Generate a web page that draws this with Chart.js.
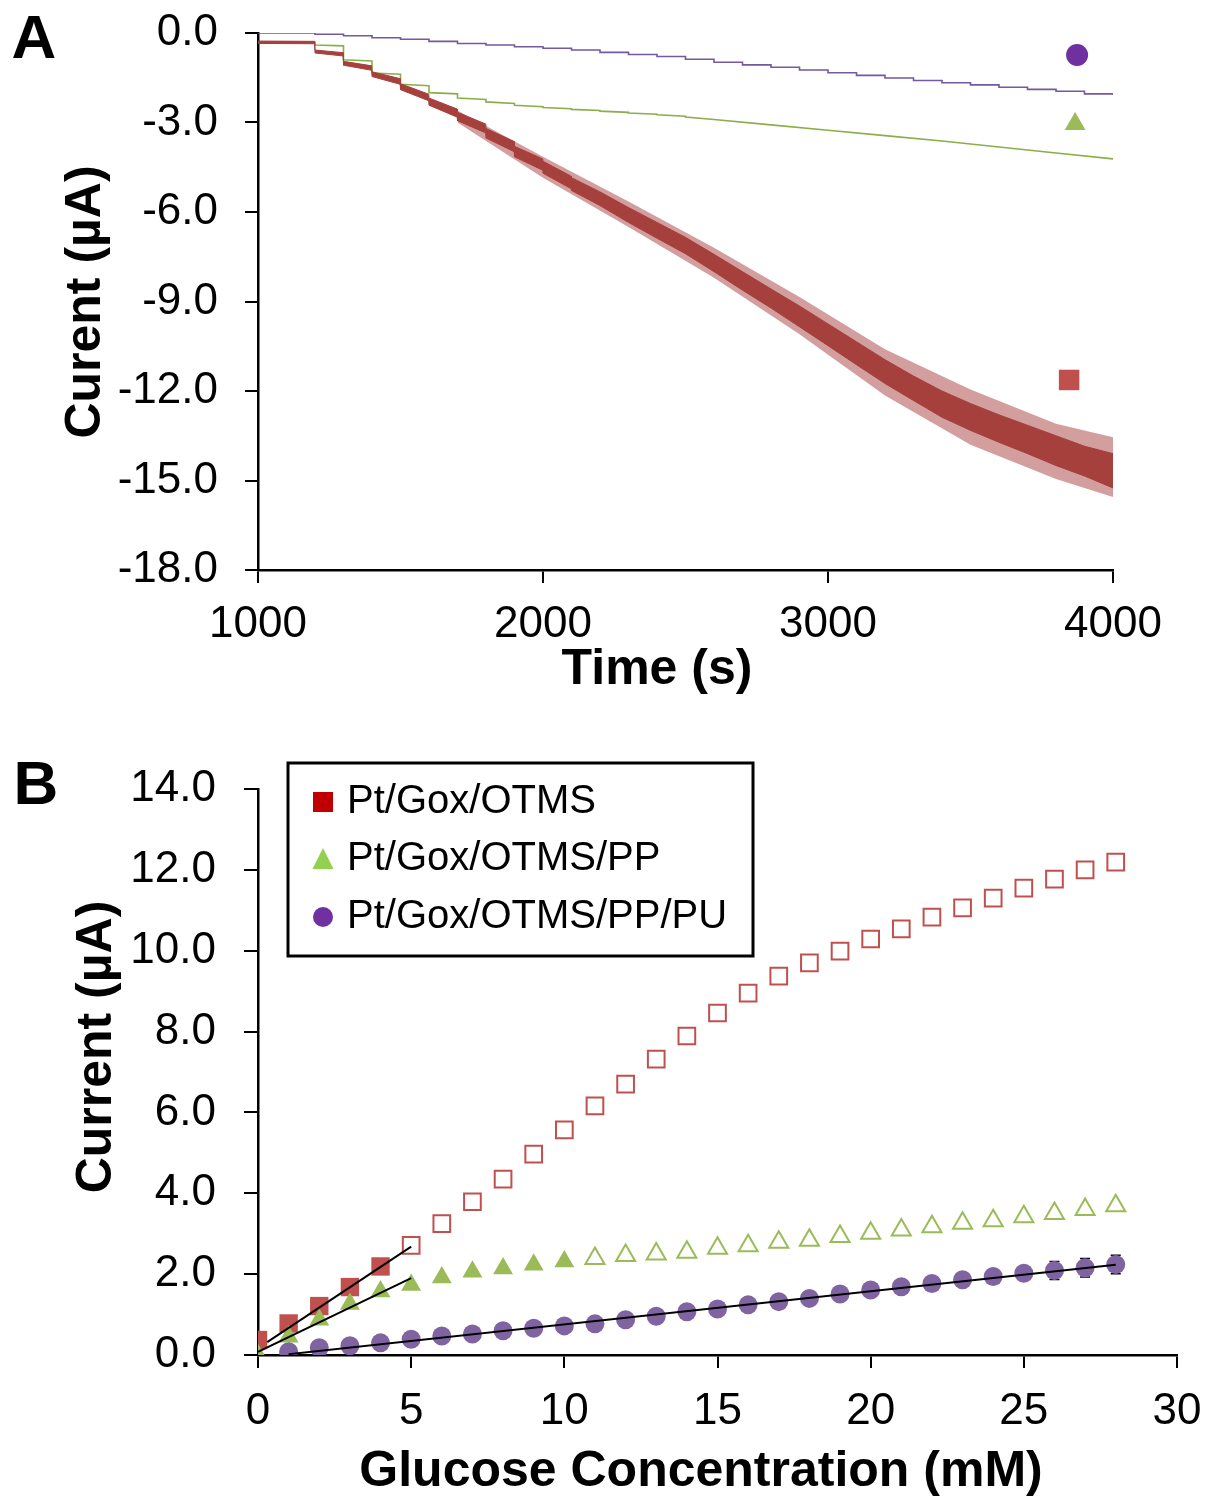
<!DOCTYPE html>
<html><head><meta charset="utf-8">
<script src="https://cdn.jsdelivr.net/npm/chart.js@4.4.1/dist/chart.umd.min.js"></script>
<style>
html,body{margin:0;padding:0;background:#fff;}
#wrap{position:relative;width:1207px;height:1501px;overflow:hidden;}
#ca{position:absolute;left:0;top:0;}
#cb{position:absolute;left:0;top:720px;}
</style></head><body>
<div id="wrap">
<canvas id="ca" width="1207" height="720"></canvas>
<canvas id="cb" width="1207" height="781"></canvas>
</div>
<script>
// ---------------- DATA: panel A (amperometric response) ----------------
const purpleStepTimes = [1000,1200,1300,1400,1500,1600,1700,1800,1900,2000,2100,2200,2300,2400,2500,2600,2700,2800,2900,3000,3100,3200,3300,3400,3500,3600,3700,3800,3900,4000];
const purpleLevels = [0.00,-0.04,-0.09,-0.16,-0.21,-0.28,-0.35,-0.40,-0.46,-0.51,-0.57,-0.65,-0.72,-0.79,-0.88,-0.98,-1.07,-1.15,-1.24,-1.33,-1.42,-1.51,-1.59,-1.67,-1.74,-1.82,-1.89,-1.95,-2.04,-2.04];

const greenTimes = [1000,1200,1200,1300,1300,1400,1400,1500,1500,1600,1600,1700,1700,1800,1800,1900,1900,2000,2000,2100,2100,2200,2200,2300,2300,2400,2400,2500,2500,2600,2800,3000,3200,3400,3600,3800,4000];
const greenCurrent = [-0.30,-0.31,-0.40,-0.43,-0.90,-0.94,-1.34,-1.38,-1.72,-1.77,-2.00,-2.04,-2.18,-2.23,-2.31,-2.36,-2.42,-2.47,-2.50,-2.54,-2.56,-2.60,-2.62,-2.66,-2.68,-2.72,-2.74,-2.79,-2.82,-2.90,-3.08,-3.26,-3.44,-3.62,-3.82,-4.02,-4.22];

const redTimes = [1000,1199,1200,1299,1300,1399,1400,1499,1500,1599,1600,1699,1700,1799,1800,1899,1900,1999,2000,2099,2100,2199,2300,2400,2500,2600,2700,2800,2900,3000,3100,3200,3300,3400,3500,3600,3700,3800,3900,4000];
const redCoreUpper = [-0.27,-0.28,-0.57,-0.66,-0.95,-1.10,-1.30,-1.53,-1.70,-2.05,-2.18,-2.55,-2.66,-3.05,-3.20,-3.64,-3.80,-4.22,-4.30,-4.80,-4.85,-5.32,-5.85,-6.35,-6.85,-7.42,-8.00,-8.58,-9.15,-9.75,-10.35,-10.95,-11.50,-12.00,-12.42,-12.80,-13.15,-13.50,-13.85,-14.10];
const redCoreLower = [-0.35,-0.36,-0.67,-0.77,-1.08,-1.25,-1.46,-1.72,-1.90,-2.27,-2.42,-2.82,-2.94,-3.35,-3.52,-3.98,-4.15,-4.60,-4.70,-5.22,-5.28,-5.78,-6.35,-6.88,-7.40,-8.00,-8.62,-9.22,-9.85,-10.48,-11.12,-11.75,-12.32,-12.88,-13.32,-13.72,-14.10,-14.50,-14.85,-15.25];
const redSpikeTimes = [1700,2000,2300,2600,2900,3200,3500,3800,4000];
const redSpikeUpper = [-2.60,-4.15,-5.65,-7.20,-8.85,-10.60,-11.95,-13.10,-13.55];
const redSpikeLower = [-3.00,-4.85,-6.50,-8.20,-10.10,-12.15,-13.80,-14.95,-15.55];

// end-of-trace markers (legend symbols) in panel A
const markerTimes = [3846,3867,3874];
const markerCurrents = [-11.63,-3.05,-0.74];

const aXTicks = {min:1000,max:4000,step:1000};
const aYTicks = {min:-18,max:0,step:3};

// ---------------- DATA: panel B (calibration) ----------------
const seriesNames = ['Pt/Gox/OTMS','Pt/Gox/OTMS/PP','Pt/Gox/OTMS/PP/PU'];
const concentration = [0,1,2,3,4,5,6,7,8,9,10,11,12,13,14,15,16,17,18,19,20,21,22,23,24,25,26,27,28];
const otmsCurrent = [0.37,0.78,1.21,1.68,2.19,2.71,3.25,3.79,4.35,4.97,5.57,6.16,6.70,7.32,7.89,8.46,8.95,9.37,9.70,9.99,10.29,10.54,10.83,11.06,11.30,11.55,11.77,12.00,12.19];
const ppCurrent = [0.00,0.45,0.87,1.26,1.57,1.73,1.92,2.06,2.14,2.23,2.31,2.39,2.46,2.50,2.54,2.64,2.70,2.79,2.84,2.93,3.01,3.09,3.17,3.26,3.32,3.42,3.50,3.60,3.69];
const puCurrent = [null,0.08,0.18,0.23,0.30,0.39,0.47,0.52,0.60,0.66,0.72,0.77,0.87,0.96,1.07,1.14,1.24,1.32,1.40,1.51,1.61,1.69,1.77,1.86,1.94,2.02,2.09,2.16,2.24];
const puError = [0,0,0,0,0,0,0,0,0,0,0,0,0,0,0,0,0,0,0,0,0,0,0,0,0,0,0.22,0.23,0.23];
const otmsLinearEnd = 4;   // last point of linear range (filled markers)
const ppLinearEnd = 10;
const fitOtmsX = [0.3,5.0], fitOtmsY = [0.32,2.68];
const fitPpX = [0.0,5.0], fitPpY = [0.08,1.90];
const fitPuX = [1.0,28.0], fitPuY = [0.02,2.23];
const bXTicks = {min:0,max:30,step:5};
const bYTicks = {min:0,max:14,step:2};

// ---------------- helpers ----------------
const FONT = "'Liberation Sans', Arial, sans-serif";
const pts = (xs, ys) => xs.map((x,i)=>({x:x, y:ys[i]}));
const sel = (xs, ys, from, to) => xs.map((x,i)=>({x:x,y:ys[i]})).filter((p,i)=>i>=from && i<=to && p.y!==null);

const textPlugin = {
  id:'texts',
  afterDraw(chart, args, opts){
    const ctx = chart.ctx;
    (opts.items||[]).forEach(it=>{
      ctx.save();
      ctx.font = it.font; ctx.fillStyle = '#000';
      ctx.textAlign = 'center'; ctx.textBaseline = 'middle';
      ctx.translate(it.x, it.y); if (it.rot) ctx.rotate(it.rot);
      ctx.fillText(it.text, 0, 0);
      ctx.restore();
    });
  }
};

const errorBarPlugin = {
  id:'errBars',
  beforeDatasetsDraw(chart, args, o){
    if (!o.x) return;
    const ctx = chart.ctx, xs = chart.scales.x, ys = chart.scales.y;
    ctx.save(); ctx.strokeStyle = '#000'; ctx.lineWidth = 1.5;
    o.x.forEach((cx,i)=>{
      const v = o.y[i], e = o.err[i];
      if (v===null || !e) return;
      const px = xs.getPixelForValue(cx), p1 = ys.getPixelForValue(v+e), p2 = ys.getPixelForValue(v-e);
      ctx.beginPath();
      ctx.moveTo(px, p1); ctx.lineTo(px, p2);
      ctx.moveTo(px-5, p1); ctx.lineTo(px+5, p1);
      ctx.moveTo(px-5, p2); ctx.lineTo(px+5, p2);
      ctx.stroke();
    });
    ctx.restore();
  }
};

const boxLegendPlugin = {
  id:'boxLegend',
  afterDraw(chart, args, o){
    if (!o.labels) return;
    const ctx = chart.ctx;
    ctx.save();
    ctx.lineWidth = 3; ctx.strokeStyle = '#000';
    ctx.strokeRect(o.left, o.top, o.width, o.height);
    ctx.font = o.font; ctx.textAlign = 'left'; ctx.textBaseline = 'alphabetic'; ctx.fillStyle = '#000';
    o.labels.forEach((lab,i)=>{
      const by = o.baselines[i];
      const cy = by - 11;
      const mx = o.left + 35;
      ctx.fillStyle = o.colors[i];
      ctx.beginPath();
      if (o.styles[i]==='rect') { ctx.rect(mx-10, cy-10, 20, 20); }
      else if (o.styles[i]==='triangle') { ctx.moveTo(mx, cy-11); ctx.lineTo(mx+10.5, cy+10); ctx.lineTo(mx-10.5, cy+10); ctx.closePath(); }
      else { ctx.arc(mx, cy, 10, 0, Math.PI*2); }
      ctx.fill();
      ctx.fillStyle = '#000';
      ctx.fillText(lab, o.left + 59, by);
    });
    ctx.restore();
  }
};

function axis(min, max, step, fmt, isY, tickLen, pad, size){
  return {
    type:'linear', min:min, max:max,
    ticks:{stepSize:step, autoSkip:false, maxRotation:0, color:'#000', padding:pad,
      font:{family:FONT, size:44}, callback:fmt},
    grid:{display:true, drawOnChartArea:false, drawTicks:true, tickLength:tickLen, tickWidth:2, color:'#000', lineWidth:2},
    border:{display:true, color:'#000', width:2.5},
    afterFit:(s)=>{
      if (isY) { s.width = size; s.paddingTop = 0; s.paddingBottom = 0; }
      else { s.height = size; s.paddingLeft = 0; s.paddingRight = 0; }
    }
  };
}

// ---------------- Chart A ----------------
new Chart(document.getElementById('ca'), {
  type:'line',
  data:{ datasets:[
    {label:'markerSquare', type:'scatter', data:[{x:markerTimes[0],y:markerCurrents[0]}], pointStyle:'rect', pointRadius:14.5, backgroundColor:'#C0504D', borderColor:'#C0504D', borderWidth:0},
    {label:'markerTriangle', type:'scatter', data:[{x:markerTimes[1],y:markerCurrents[1]}], pointStyle:'triangle', pointRadius:12, backgroundColor:'#9BBB59', borderColor:'#9BBB59', borderWidth:0},
    {label:'markerCircle', type:'scatter', data:[{x:markerTimes[2],y:markerCurrents[2]}], pointStyle:'circle', pointRadius:11, backgroundColor:'#7030A0', borderColor:'#7030A0', borderWidth:0},
    {label:'redCoreUpper', data:pts(redTimes, redCoreUpper), borderColor:'#A5403D', borderWidth:1, pointRadius:0, fill:false},
    {label:'redCoreLower', data:pts(redTimes, redCoreLower), borderColor:'#A5403D', borderWidth:1, pointRadius:0, fill:3, backgroundColor:'#A5403D'},
    {label:'redSpikeUpper', data:pts(redSpikeTimes, redSpikeUpper), borderColor:'rgba(165,64,61,0)', borderWidth:0, pointRadius:0, fill:false},
    {label:'redSpikeLower', data:pts(redSpikeTimes, redSpikeLower), borderColor:'rgba(165,64,61,0)', borderWidth:0, pointRadius:0, fill:5, backgroundColor:'rgba(165,64,61,0.5)'},
    {label:'green', data:pts(greenTimes, greenCurrent), borderColor:'#8AAE48', borderWidth:1.6, pointRadius:0, fill:false},
    {label:'purple', data:pts(purpleStepTimes, purpleLevels), borderColor:'#7458A0', borderWidth:1.6, pointRadius:0, stepped:'before', fill:false}
  ]},
  options:{
    responsive:false, animation:false, devicePixelRatio:1,
    layout:{padding:{top:33, right:94, left:0, bottom:0}},
    plugins:{legend:{display:false}, tooltip:{enabled:false},
      texts:{items:[
        {text:'A', x:34, y:41, font:"bold 62px "+FONT},
        {text:'Curent (\u00B5A)', x:86, y:302, rot:-Math.PI/2, font:"bold 50px "+FONT},
        {text:'Time (s)', x:657, y:670, font:"bold 50px "+FONT}
      ]}},
    scales:{
      x: axis(aXTicks.min, aXTicks.max, aXTicks.step, v=>String(v), false, 13, 15, 150),
      y: axis(aYTicks.min, aYTicks.max, aYTicks.step, v=>v.toFixed(1), true, 13, 27, 258)
    }
  },
  plugins:[textPlugin]
});

// ---------------- Chart B ----------------
new Chart(document.getElementById('cb'), {
  type:'scatter',
  data:{ datasets:[
    {label:'fitOtms', type:'line', data:pts(fitOtmsX, fitOtmsY), borderColor:'#000', borderWidth:2, pointRadius:0, fill:false},
    {label:'fitPp', type:'line', data:pts(fitPpX, fitPpY), borderColor:'#000', borderWidth:2, pointRadius:0, fill:false},
    {label:'fitPu', type:'line', data:pts(fitPuX, fitPuY), borderColor:'#000', borderWidth:2, pointRadius:0, fill:false},
    {label:seriesNames[2], data:sel(concentration, puCurrent, 0, 28), pointStyle:'circle', pointRadius:9.5, backgroundColor:'#8064A2', borderColor:'#8064A2', borderWidth:0},
    {label:seriesNames[1]+' open', data:sel(concentration, ppCurrent, ppLinearEnd+1, 28), pointStyle:'triangle', pointRadius:11, backgroundColor:'rgba(255,255,255,0)', borderColor:'#9BBB59', borderWidth:2},
    {label:seriesNames[1], data:sel(concentration, ppCurrent, 0, ppLinearEnd), pointStyle:'triangle', pointRadius:11.5, backgroundColor:'#9BBB59', borderColor:'#9BBB59', borderWidth:0},
    {label:seriesNames[0]+' open', data:sel(concentration, otmsCurrent, otmsLinearEnd+1, 28), pointStyle:'rect', pointRadius:11.8, backgroundColor:'rgba(255,255,255,0)', borderColor:'#C0504D', borderWidth:2},
    {label:seriesNames[0], data:sel(concentration, otmsCurrent, 0, otmsLinearEnd), pointStyle:'rect', pointRadius:13, backgroundColor:'#C0504D', borderColor:'#C0504D', borderWidth:0}
  ]},
  options:{
    responsive:false, animation:false, devicePixelRatio:1,
    layout:{padding:{top:69, right:30, left:0, bottom:0}},
    plugins:{legend:{display:false}, tooltip:{enabled:false},
      errBars:{x:concentration, y:puCurrent, err:puError},
      texts:{items:[
        {text:'B', x:36, y:67, font:"bold 62px "+FONT},
        {text:'Current (\u00B5A)', x:97, y:327, rot:-Math.PI/2, font:"bold 50px "+FONT},
        {text:'Glucose Concentration (mM)', x:701, y:752, font:"bold 50px "+FONT}
      ]},
      boxLegend:{labels:seriesNames, colors:['#C00000','#92D050','#7030A0'], styles:['rect','triangle','circle'],
        left:288, top:43, width:465, height:193, baselines:[93,150,208], font:"40px "+FONT}
    },
    scales:{
      x: axis(bXTicks.min, bXTicks.max, bXTicks.step, v=>String(v), false, 13, 17, 146),
      y: axis(bYTicks.min, bYTicks.max, bYTicks.step, v=>v.toFixed(1), true, 14, 28, 258)
    }
  },
  plugins:[textPlugin, errorBarPlugin, boxLegendPlugin]
});
</script>
</body></html>
